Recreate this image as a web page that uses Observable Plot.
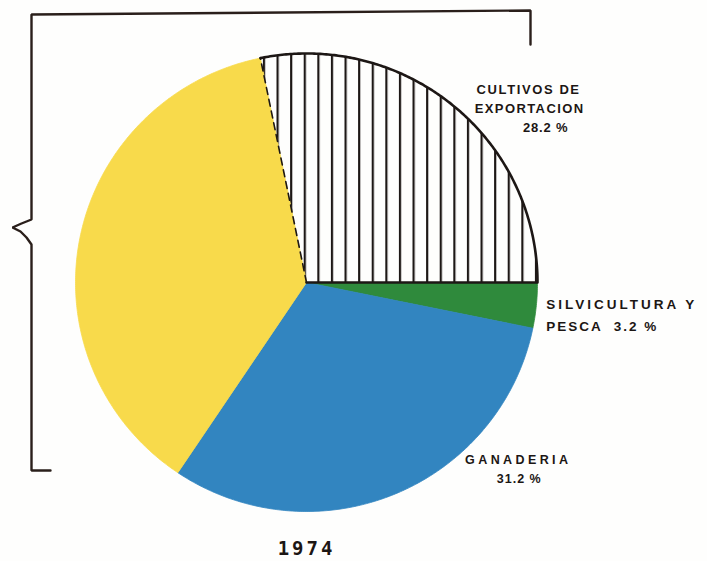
<!DOCTYPE html>
<html>
<head>
<meta charset="utf-8">
<script src="https://cdn.jsdelivr.net/npm/d3@7"></script>
<script src="https://cdn.jsdelivr.net/npm/@observablehq/plot@0.6"></script>
<style>
  html, body { margin: 0; padding: 0; background: #fefefd; }
  #chart svg { display: block; }
</style>
</head>
<body>
<div id="chart"></div>
<script>
// ---- data ----
const sectors = ["Cultivos de exportación", "Silvicultura y pesca", "Ganadería", "Otros"];
const shares = [28.2, 3.2, 31.2, 37.4];
const labelLines = [
  ["CULTIVOS DE", "EXPORTACION", "28.2 %"],
  ["SILVICULTURA Y", "PESCA  3.2 %"],
  ["GANADERIA", "31.2 %"],
  []
];
const sliceFills = ["url(#hatch)", "#2f8a3c", "#3285c0", "#f8da4b"];
const yearLabel = "1974";

// ---- layout (pixels) ----
const W = 707, H = 561;
const cx = 306, cy = 282, Rx = 231, Ry = 229;
const ink = "#1c1614";

// pie geometry in unit space (radius 1), angles clockwise from 12 o'clock
const total = d3.sum(shares);
const start = Math.PI / 2 - 2 * Math.PI * shares[0] / total;
const arcs = d3.pie().sort(null).value(d => d.share)
  .startAngle(start).endAngle(start + 2 * Math.PI)(
    sectors.map((s, i) => ({sector: s, share: shares[i], fill: sliceFills[i], lines: labelLines[i]}))
  );

function arcPoints(a0, a1) {
  const n = Math.max(2, Math.ceil((a1 - a0) / (Math.PI / 360)));
  return d3.range(n + 1).map(k => {
    const a = a0 + (a1 - a0) * k / n;
    return {x: Math.sin(a), y: Math.cos(a)};
  });
}
const slices = arcs.map(a => ({
  ...a.data,
  a0: a.startAngle,
  a1: a.endAngle,
  poly: [{x: 0, y: 0}, ...arcPoints(a.startAngle, a.endAngle), {x: 0, y: 0}]
}));

// decorative bracket on the left (converted to pie-radius units)
const bracketPx = [[530, 44], [530, 10], [31, 14], [31, 219], [21, 223], [12, 227], [20, 231], [26, 237], [31, 244], [31, 470], [50, 470]];
const bracket = bracketPx.map(([px, py]) => ({x: (px - cx) / Rx, y: (cy - py) / Ry}));

const marks = [];
// slices
slices.forEach(s => {
  const hatched = s.fill.startsWith("url");
  marks.push(Plot.line(s.poly, {x: "x", y: "y", fill: s.fill, stroke: hatched ? "none" : s.fill, strokeWidth: 0.8, curve: "linear"}));
});
// outline of hatched slice
const h = slices[0];
marks.push(Plot.line([...arcPoints(h.a0, h.a1), {x: 0, y: 0}], {x: "x", y: "y", stroke: "#1d1715", strokeWidth: 2.6, curve: "linear"}));
marks.push(Plot.line([{x: 0, y: 0}, {x: Math.sin(h.a0), y: Math.cos(h.a0)}], {x: "x", y: "y", stroke: "#1d1715", strokeWidth: 1.6, strokeDasharray: "7,5", curve: "linear"}));
// bracket
marks.push(Plot.line(bracket, {x: "x", y: "y", stroke: "#2a1f1b", strokeWidth: 2.4, curve: "linear", strokeLinejoin: "miter"}));

// labels anchored at slice mid-angle on the rim; per-line pixel offsets
const labelStyle = [
  {anchor: "middle", size: 13, lines: [{dx: 76, dy: -15, ls: 1.6}, {dx: 77, dy: 4, ls: 1.4}, {dx: 93, dy: 23, ls: 0.8}]},
  {anchor: "start", size: 13.5, lines: [{dx: 10, dy: -1, ls: 3}, {dx: 10, dy: 21, ls: 2}]},
  {anchor: "middle", size: 12.5, lines: [{dx: 124, dy: -34, ls: 3.4}, {dx: 125, dy: -15, ls: 1}]}
];
slices.forEach((s, i) => {
  if (!s.lines.length) return;
  const m = (s.a0 + s.a1) / 2;
  const st = labelStyle[i];
  s.lines.forEach((line, j) => {
    const o = st.lines[j];
    marks.push(Plot.text([{x: Math.sin(m), y: Math.cos(m), t: line}], {
      x: "x", y: "y", text: "t", dx: o.dx, dy: o.dy, textAnchor: st.anchor,
      fontSize: st.size, fontWeight: "bold", fontFamily: "Liberation Sans, Arial, sans-serif",
      fill: ink, ariaDescription: "ls" + o.ls
    }));
  });
});
// year
marks.push(Plot.text([{x: 0, y: -1, t: yearLabel}], {
  x: "x", y: "y", text: "t", dy: 37, fontSize: 19, fontWeight: "bold",
  fontFamily: "DejaVu Sans Mono, monospace", fill: ink, ariaDescription: "ls3"
}));

const svg = Plot.plot({
  width: W, height: H,
  margin: 0,
  style: {background: "#fefefd", overflow: "visible"},
  x: {type: "linear", domain: [-cx / Rx, (W - cx) / Rx], range: [0, W], axis: null},
  y: {type: "linear", domain: [-(H - cy) / Ry, cy / Ry], range: [H, 0], axis: null},
  marks
});

// hatch pattern
const defs = d3.select(svg).insert("defs", ":first-child");
const pat = defs.append("pattern").attr("id", "hatch").attr("patternUnits", "userSpaceOnUse")
  .attr("x", 276).attr("y", 0).attr("width", 13.6).attr("height", 20);
pat.append("rect").attr("width", 13.6).attr("height", 20).attr("fill", "#fefefd");
pat.append("rect").attr("x", 0).attr("y", 0).attr("width", 2.2).attr("height", 20).attr("fill", "#1d1715");

// letter spacing per text line
d3.select(svg).selectAll("g[aria-description^='ls']").each(function() {
  const v = this.getAttribute("aria-description").slice(2);
  this.setAttribute("letter-spacing", v);
});

document.getElementById("chart").appendChild(svg);
</script>
</body>
</html>
